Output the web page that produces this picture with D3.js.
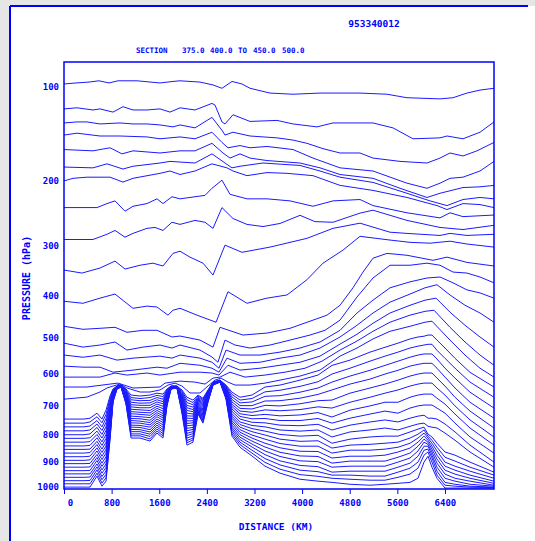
<!DOCTYPE html>
<html>
<head>
<meta charset="utf-8">
<title>cross section</title>
<style>
body{margin:0;background:#e6e6e6;}
.edge{stroke:#0000ff;stroke-width:2px;}
.box{fill:none;stroke:#0000ff;stroke-width:1.5px;}
.theta{fill:none;stroke:#1a1aff;stroke-width:1px;}
.lbl{font-family:"DejaVu Sans Mono",monospace;font-weight:bold;fill:#0000ff;}
.axis text{font-family:"DejaVu Sans Mono",monospace;font-weight:bold;fill:#0000ff;font-size:9px;}
.axis line,.axis path{stroke:#0000ff;}
</style>
</head>
<body>
<script src="https://cdn.jsdelivr.net/npm/d3@7"></script>
<script>

var width = 535;
var height = 541;
var plot = {left:64, right:494, top:62, bottom:489};

// axis ticks
var xTicks = [0,800,1600,2400,3200,4000,4800,5600,6400];
var yTicks = [100,200,300,400,500,600,700,800,900,1000];

// upper contours: [distance km, pressure hPa]
var theta01 = [[0,97.5],[202,96.7],[420,96],[588,95],[756,96.7],[907,95],[1226,95],[1613,96.7],[1831,95.5],[1949,95],[2285,96],[2503,98.3],[2654,101],[2822,95.5],[2990,97.5],[3125,101],[3461,105],[3847,106],[4301,105],[4973,105],[5426,106],[5762,109],[6317,110],[6535,109],[6770,105],[6989,102.5],[7224,101]];
var theta02 = [[0,119],[218,118],[487,120],[605,119],[823,122],[991,117],[1159,120],[1394,120],[1613,119],[1781,122],[1949,118],[2201,120],[2486,114],[2537,115.5],[2654,131.5],[2705,133.5],[2839,124.5],[3125,131],[3578,130],[3847,133.5],[4250,136.5],[4519,132.5],[5191,132.5],[5527,137.5],[5863,149],[6317,148],[6434,146],[6703,149],[6989,142],[7224,131.5]];
var theta03 = [[0,132.5],[218,131.5],[386,131.5],[605,133.5],[941,132.5],[1159,133.5],[1394,133.5],[1613,134.5],[1831,136.5],[1949,134.5],[2201,137.5],[2486,127],[2654,140],[2705,145],[2839,142],[3125,146],[3578,148],[3847,150.4],[4082,154],[4351,160],[4637,165],[4973,165],[5191,171],[5645,175],[6098,177],[6317,171],[6485,165],[6703,168.5],[6938,162.5],[7224,153]];
var theta04 = [[0,145],[218,143],[605,146],[941,146],[1394,147],[1613,149],[1949,147],[2201,149],[2486,142],[2654,153],[2755,159],[2957,156.5],[3125,159],[3410,157.5],[3847,161],[4183,171],[4637,183],[5191,187],[5762,203],[6098,210],[6317,203],[6485,196.5],[6703,195],[6989,187],[7224,175]];
var theta05 = [[0,161],[487,162.5],[773,159],[974,166],[1159,162.5],[1613,165],[1949,162.5],[2201,162.5],[2486,154],[2671,165],[2789,171],[2957,166],[3125,171],[3410,174],[3965,177],[4301,183],[4637,191.5],[5191,196.5],[5645,210],[6098,223],[6317,217],[6703,209],[6989,208],[7224,206]];
var theta06 = [[0,182],[487,183],[722,178],[991,184.5],[1159,181],[1613,177],[1781,175],[2201,177],[2486,166],[2705,177],[2822,183],[2957,181],[3343,177],[3965,180],[4301,187],[4637,195],[5191,202],[5762,217],[6149,228],[6434,235],[6703,226],[6989,223],[7224,225]];
var theta07 = [[0,200],[151,196.5],[386,195],[773,195],[991,201.5],[1159,196.5],[1613,190],[1781,187],[1949,191.5],[2201,187],[2486,178],[2738,183],[2839,187],[3074,193],[3410,189],[3746,190],[4183,193],[4637,206],[5191,213],[5762,223],[6266,235],[6434,241],[6703,232],[6989,233.5],[7224,238]];
var theta08 = [[0,238],[554,238],[722,232],[857,228],[1025,243.5],[1159,236],[1394,232],[1562,225],[1663,232],[1814,222],[1949,225],[2201,222],[2369,220],[2486,210],[2654,199],[2789,218.5],[3074,225],[3410,225],[3797,228],[4183,236],[4519,228],[4973,226],[5191,235],[5762,246],[6317,254],[6485,246],[6703,252],[7224,249.5]];
var theta09 = [[0,290],[487,290],[722,281],[857,274.5],[1025,286],[1159,279.5],[1394,271],[1529,269.5],[1663,274.5],[1814,261],[1949,264.5],[2201,258],[2369,261],[2503,271],[2654,238],[2839,255],[3074,264.5],[3343,268],[3629,263],[3965,250],[4217,260],[4519,261],[4973,246.5],[5191,242],[5762,258],[6317,269.5],[6703,273],[7224,266]];
var theta10 = [[0,347],[302,353],[605,343],[857,329.5],[1025,345],[1277,337.5],[1495,333.5],[1663,339],[1831,315],[1949,311],[2117,322],[2335,333.5],[2503,357],[2705,300],[2990,313],[3461,303.5],[4082,288],[4519,271],[4973,262.5],[5477,277.5],[5762,279.5],[6317,283],[6485,279.5],[6770,283],[7224,281]];
var theta11 = [[0,413],[319,417.5],[605,406],[857,397],[1159,429],[1394,424],[1562,426],[1747,445],[1831,433.5],[1949,429],[2234,445],[2554,462],[2755,392],[3074,417.5],[3410,406],[3746,399],[4082,366.5],[4351,333.5],[4687,309],[4973,284.5],[5477,291],[5813,295],[6149,296.5],[6485,293],[6770,298],[7224,303.5]];
var theta12 = [[0,472],[319,479.5],[605,477],[857,474.5],[1058,487],[1327,482],[1562,482],[1814,499],[1949,496.5],[2285,507],[2503,525.5],[2621,474.5],[3007,494],[3410,489],[3797,477],[4183,457],[4418,445],[4637,422],[4855,383.5],[5023,351],[5191,324],[5426,315],[5762,318.5],[6199,328],[6434,322],[6770,332],[7224,339]];
var theta13 = [[0,515],[319,525.5],[605,520],[857,512],[1058,533.5],[1327,525.5],[1613,520],[1814,528],[1949,520],[2285,533.5],[2486,552.5],[2587,567],[2705,507],[2873,520],[3125,528],[3461,520],[3797,507],[4133,494],[4385,482],[4637,457],[4922,403.5],[5191,363],[5477,337.5],[5813,337.5],[6098,333.5],[6317,337.5],[6535,351],[6770,353],[6989,361],[7224,373]];
var theta14 = [[0,547],[319,553],[605,547],[890,561],[1159,555.5],[1613,550],[1814,555.5],[1949,547],[2285,555.5],[2486,567],[2604,584],[2722,533.5],[2957,547],[3293,547],[3629,539],[3965,528],[4301,512],[4637,482],[4922,440],[5191,410.5],[5477,383.5],[5813,371],[6098,363],[6317,361],[6535,373],[6770,388],[6989,394.5],[7224,406]];
var theta15 = [[0,578],[319,581],[605,581],[823,595.5],[1159,589.5],[1562,581],[1730,584],[1949,570],[2285,575.5],[2486,584],[2604,595.5],[2738,555.5],[2957,570],[3293,567],[3629,555.5],[3965,547],[4301,528],[4637,499],[4922,469.5],[5191,440],[5477,415],[5813,397],[6065,383.5],[6266,377],[6485,399],[6737,422],[6989,440],[7224,462]];
var theta16 = [[0,610],[605,610],[857,598],[1058,604],[1394,598],[1613,604],[1949,595.5],[2285,595.5],[2486,598],[2604,604],[2755,575.5],[2957,589.5],[3293,584],[3629,575.5],[3965,567],[4301,550],[4637,517.5],[4922,492],[5191,464.5],[5477,440],[5813,422],[6065,410.5],[6250,406],[6485,438],[6737,469.5],[6989,499],[7224,525.5]];
var theta17 = [[0,640],[386,640],[773,631],[907,628],[1159,643],[1613,640],[1697,628],[1814,625],[1949,622],[2201,625],[2369,631],[2503,613],[2621,610],[2789,595.5],[3041,610],[3377,604],[3713,595.5],[4049,584],[4334,564],[4637,533.5],[4922,509.5],[5191,484.5],[5477,462],[5813,445],[6065,436],[6216,433.5],[6485,474.5],[6737,512],[6989,547],[7224,575.5]];
var theta18 = [[0,678],[386,671.5],[605,655.5],[722,643],[823,637],[941,631],[1058,643],[1277,655.5],[1445,655.5],[1613,649],[1747,634],[1865,628],[1982,637],[2117,658.5],[2285,658.5],[2419,637],[2537,619],[2638,613],[2755,625],[2873,634],[3125,634],[3377,628],[3629,619],[3965,607],[4301,589.5],[4637,550],[4922,528],[5191,504],[5477,484.5],[5813,472],[6065,462],[6182,459.5],[6485,507],[6737,547],[6989,584],[7224,610]];

// low-level contours hugging the terrain: one row per distance, one column per contour
var bundleKm = [0,336,437,554,638,706,773,823,890,958,1042,1126,1277,1445,1562,1663,1730,1798,1898,1982,2066,2167,2251,2335,2419,2503,2621,2722,2822,2957,3158,3377,3629,3965,4267,4502,4805,5141,5393,5611,5813,5947,6048,6115,6182,6266,6401,6569,6821,7224];
var bundleP = [
[744,758,771,785,799,812,826,840,853,867,881,895,908,922,936,949,963,977,990,1004],
[744,758,771,785,799,812,826,840,853,867,881,895,908,922,936,949,963,977,990,1004],
[741,754,768,782,796,810,824,838,852,865,879,893,907,921,935,949,962,976,990,1004],
[724,736,749,761,773,786,798,810,823,835,847,859,872,884,896,909,921,933,946,958],
[744,757,771,784,798,811,825,838,852,865,879,892,906,919,933,946,960,973,987,1000],
[714,728,742,756,770,784,798,812,826,840,853,867,881,895,909,923,937,951,965,979],
[668,676,684,692,700,708,716,723,731,739,747,755,763,771,779,787,795,803,811,819],
[646,648,650,653,655,657,659,661,663,666,668,670,672,674,677,679,681,683,685,688],
[637,637,638,638,639,639,640,640,641,641,642,642,643,643,644,644,645,645,646,646],
[634,634,635,635,635,636,636,636,637,637,638,638,638,639,639,639,639,640,640,640],
[646,649,651,654,657,659,662,664,667,669,672,674,677,680,682,685,687,690,692,694],
[665,673,680,688,696,703,711,719,726,734,742,749,757,765,772,780,788,796,803,811],
[668,676,683,691,698,706,713,721,728,736,743,751,758,766,773,781,788,796,803,811],
[665,673,682,690,698,706,715,723,731,739,748,756,764,772,781,789,797,805,814,822],
[659,666,673,680,687,694,701,708,715,722,729,736,744,751,758,765,772,779,786,793],
[662,670,678,686,693,701,709,717,725,733,740,748,756,764,772,780,787,795,803,811],
[646,649,652,655,657,660,663,666,669,672,674,677,680,683,686,689,692,694,697,700],
[637,637,638,638,639,639,640,640,641,641,642,642,643,643,644,644,645,645,646,646],
[637,637,638,638,638,639,639,639,640,640,640,641,641,641,641,642,642,642,643,643],
[649,653,657,661,665,669,673,677,681,685,689,692,696,700,704,708,712,716,720,724],
[672,680,689,698,706,715,724,733,741,750,759,767,776,785,794,802,811,820,828,837],
[681,689,696,704,712,719,727,734,742,750,757,765,773,780,788,795,803,811,818,826],
[665,668,672,675,678,681,685,688,691,694,698,701,704,707,711,714,717,720,724,727],
[675,679,683,688,692,696,701,705,710,714,718,723,727,731,736,740,745,749,753,758],
[649,651,653,655,657,659,661,663,665,667,669,671,673,675,677,679,681,683,686,688],
[625,625,626,626,627,627,628,628,629,629,630,630,631,631,632,632,633,633,634,634],
[619,619,620,620,620,621,621,621,622,622,622,623,623,623,623,624,624,624,625,625],
[634,636,639,641,643,646,648,650,653,655,657,659,662,664,666,669,671,673,676,678],
[656,663,671,679,687,695,702,710,718,726,734,741,749,757,765,773,780,788,796,804],
[672,681,690,699,708,717,726,735,744,754,763,772,781,790,799,808,817,826,835,845],
[665,676,687,699,710,721,732,743,755,766,777,788,800,811,822,833,844,856,867,878],
[640,655,669,684,698,713,728,742,757,771,786,800,815,830,844,859,873,888,903,918],
[634,650,667,683,700,716,733,749,765,782,798,815,831,847,864,880,897,913,930,946],
[619,638,656,675,693,712,730,749,767,786,804,823,841,860,878,897,915,934,952,971],
[604,624,643,663,683,703,722,742,762,782,801,821,841,861,880,900,920,940,959,979],
[576,601,625,649,681,707,737,758,782,807,830,848,867,886,906,922,942,954,967,984],
[561,584,607,631,659,688,714,741,765,789,815,837,856,879,898,918,938,954,971,992],
[539,564,590,616,643,672,700,727,754,782,807,834,856,879,898,918,938,958,975,996],
[526,550,576,601,631,659,688,717,747,775,804,830,852,875,898,918,938,958,975,992],
[515,539,564,590,619,649,688,724,754,782,804,826,845,863,883,902,922,942,963,988],
[504,528,553,578,607,637,672,707,741,769,789,811,830,848,867,886,906,926,950,984],
[499,523,547,573,601,631,665,700,734,761,779,797,811,826,841,859,879,902,926,967],
[497,520,544,570,598,628,662,697,731,758,772,782,793,804,815,826,841,856,875,902],
[494,518,544,570,598,628,662,697,741,769,797,804,811,819,826,834,841,852,863,879],
[494,518,544,570,598,628,662,697,741,772,807,819,830,841,852,863,875,886,902,922],
[507,534,558,584,613,643,675,707,744,775,830,845,859,875,890,906,922,938,954,967],
[528,556,584,610,637,665,694,724,761,793,863,883,902,918,934,950,967,984,996,1008],
[556,584,613,643,672,700,727,758,789,819,875,898,918,934,950,967,979,992,1000,1008],
[596,625,656,688,717,747,775,807,837,863,902,922,938,954,967,979,992,1000,1004,1008],
[640,672,707,741,775,807,837,867,902,922,942,954,967,979,988,996,1000,1004,1006,1008]
];

var upperLines = [theta01,theta02,theta03,theta04,theta05,theta06,theta07,theta08,theta09,
                  theta10,theta11,theta12,theta13,theta14,theta15,theta16,theta17,theta18];

var lowerLines = bundleP[0].map(function(d,j){
	return bundleKm.map(function(k,i){ return [k, bundleP[i][j]]; });
});

var svg = d3.select("body").append("svg")
			.attr("width",width)
			.attr("height",height)
			.style("display","block");

// page frame
svg.append("rect").attr("x",10).attr("y",6).attr("width",width-10).attr("height",height-6).attr("fill","#fff");
svg.append("line").attr("class","edge").attr("x1",10).attr("y1",6).attr("x2",528).attr("y2",6);
svg.append("line").attr("class","edge").attr("x1",10).attr("y1",6).attr("x2",10).attr("y2",height);

var x = d3.scaleLinear().domain([0,7224]).range([plot.left,plot.right]);
var y = d3.scalePow().exponent(0.286).domain([81,1012]).range([plot.top,plot.bottom]);

svg.append("clipPath").attr("id","clip")
	.append("rect")
	.attr("x",plot.left).attr("y",plot.top)
	.attr("width",plot.right-plot.left).attr("height",plot.bottom-plot.top);

var line = d3.line()
			.x(function(d){ return x(d[0]); })
			.y(function(d){ return y(d[1]); });

var g = svg.append("g").attr("clip-path","url(#clip)");

g.selectAll("path.upper")
	.data(upperLines)
	.enter().append("path")
	.attr("class","theta upper")
	.attr("d",line);

g.selectAll("path.lower")
	.data(lowerLines)
	.enter().append("path")
	.attr("class","theta lower")
	.attr("d",line);

// axes
var xAxis = d3.axisBottom(x).tickValues(xTicks).tickFormat(d3.format("d"))
				.tickSize(5).tickPadding(6).tickSizeOuter(0);
var gx = svg.append("g").attr("class","axis")
	.attr("transform","translate(0,"+plot.bottom+")")
	.call(xAxis);
gx.select(".domain").remove();
gx.selectAll(".tick text").filter(function(d){ return d === 0; }).attr("dx",6);

var yAxis = d3.axisLeft(y).tickValues(yTicks).tickFormat(d3.format("d"))
				.tickSize(0).tickPadding(5);
var gy = svg.append("g").attr("class","axis")
	.attr("transform","translate("+plot.left+",0)")
	.call(yAxis);
gy.select(".domain").remove();

svg.append("rect").attr("class","box")
	.attr("x",plot.left).attr("y",plot.top)
	.attr("width",plot.right-plot.left).attr("height",plot.bottom-plot.top);

// titles
svg.append("text").attr("class","lbl")
	.attr("x",374).attr("y",27)
	.attr("text-anchor","middle")
	.style("font-size","9.5px")
	.text("953340012");

var sec = svg.append("text").attr("class","lbl").attr("y",53).style("font-size","7.5px");
var secParts = [["SECTION",136],["375.0",182],["400.0",210],["TO",238],["450.0",253],["500.0",282]];
secParts.forEach(function(p){
	sec.append("tspan").attr("x",p[1]).text(p[0]);
});

svg.append("text").attr("class","lbl")
	.attr("transform","translate(30,278) rotate(-90)")
	.attr("text-anchor","middle")
	.style("font-size","10px")
	.text("PRESSURE (hPa)");

svg.append("text").attr("class","lbl")
	.attr("x",276).attr("y",530)
	.attr("text-anchor","middle")
	.style("font-size","9.5px")
	.text("DISTANCE (KM)");

</script>
</body>
</html>
